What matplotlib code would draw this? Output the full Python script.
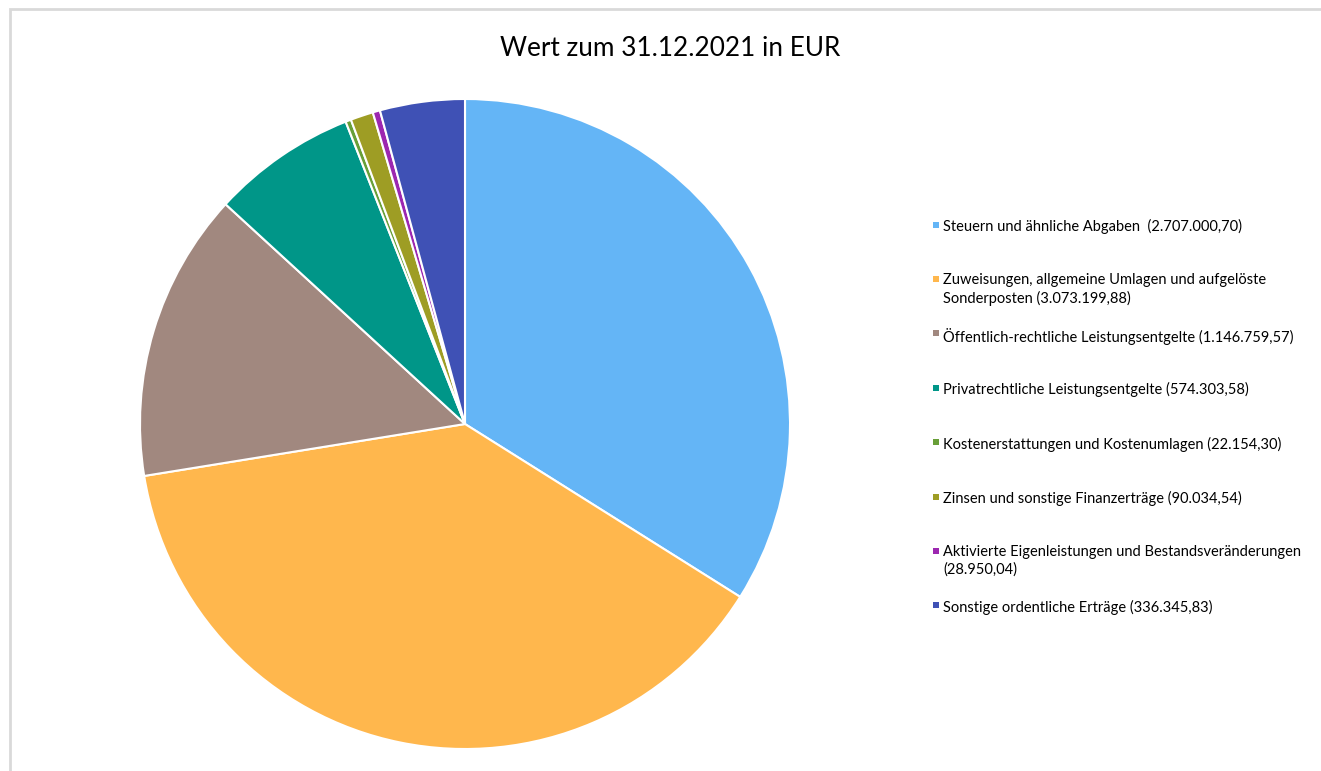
import matplotlib.pyplot as plt
from matplotlib.patches import Rectangle

plt.rcParams['font.family'] = ['Lato', 'DejaVu Sans']

# Erträge 2021 in EUR
categories = [
    "Steuern und ähnliche Abgaben  ",
    "Zuweisungen, allgemeine Umlagen und aufgelöste\nSonderposten ",
    "Öffentlich-rechtliche Leistungsentgelte ",
    "Privatrechtliche Leistungsentgelte ",
    "Kostenerstattungen und Kostenumlagen ",
    "Zinsen und sonstige Finanzerträge ",
    "Aktivierte Eigenleistungen und Bestandsveränderungen\n",
    "Sonstige ordentliche Erträge ",
]
value_labels = ["2.707.000,70", "3.073.199,88", "1.146.759,57", "574.303,58",
                "22.154,30", "90.034,54", "28.950,04", "336.345,83"]
values = [2707000.70, 3073199.88, 1146759.57, 574303.58,
          22154.30, 90034.54, 28950.04, 336345.83]
colors = ["#64B5F6", "#FFB74D", "#A1887F", "#009688",
          "#689F38", "#9E9D24", "#9C27B0", "#3F51B5"]

W, H = 1321, 771
fig = plt.figure(figsize=(W / 100, H / 100), dpi=100)

# grey chart frame (cut at right/bottom like the screenshot)
fig.patches.append(Rectangle((10 / W, -0.1), 1.2, 1.1 - 9 / H, transform=fig.transFigure,
                             fill=False, edgecolor="#D9D9D9", linewidth=2, clip_on=False))

fig.text(670 / W, 1 - 48 / H, "Wert zum 31.12.2021 in EUR", ha="center", va="center",
         fontsize=18.8, color="#000000")

cx, cy, r = 465, 424, 325
ax = fig.add_axes([(cx - r) / W, 1 - (cy + r) / H, 2 * r / W, 2 * r / H])
ax.pie(values, colors=colors, startangle=90, counterclock=False,
       wedgeprops=dict(edgecolor="white", linewidth=1.5))
ax.set_xlim(-1, 1)
ax.set_ylim(-1, 1)
ax.set_aspect("equal")
ax.axis("off")

# legend drawn by hand so the square sits on the first line
for i, (cat, vl, c) in enumerate(zip(categories, value_labels, colors)):
    y = 224 + i * 54.4
    fig.patches.append(Rectangle((933 / W, 1 - (y + 3.5) / H), 6 / W, 6 / H,
                                 transform=fig.transFigure, facecolor=c, edgecolor="none"))
    fig.text(943 / W, 1 - (y - 5) / H, f"{cat}({vl})", ha="left", va="top",
             fontsize=10.5, color="#000000", linespacing=1.3)

fig.savefig("out.png", dpi=100)
